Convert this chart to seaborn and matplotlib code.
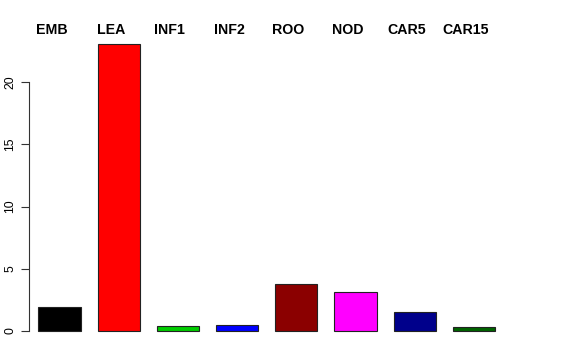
import matplotlib
matplotlib.use("Agg")
import matplotlib.pyplot as plt
import matplotlib.transforms as mtransforms
import seaborn as sns
import pandas as pd

categories = ["EMB", "LEA", "INF1", "INF2", "ROO", "NOD", "CAR5", "CAR15"]
values = [1.88, 23.1, 0.35, 0.46, 3.76, 3.12, 1.51, 0.27]
colors = ["#000000", "#FF0000", "#00CD00", "#0000FF", "#8B0000", "#FF00FF", "#00008B", "#006400"]
yticks = [0, 5, 10, 15, 20]

sns.set_style("white")
plt.rcParams["font.family"] = ["Liberation Sans", "DejaVu Sans"]
plt.rcParams["text.color"] = "black"
plt.rcParams["ytick.color"] = "black"
plt.rcParams["ytick.labelcolor"] = "black"

df = pd.DataFrame({"cat": categories, "val": values})

fig = plt.figure(figsize=(5.76, 3.6), dpi=100)
W, H = 576, 360
ax_left, ax_right = 29, 560
ax_top, ax_bot = 32, 342.5
ax = fig.add_axes([ax_left / W, (H - ax_bot) / H, (ax_right - ax_left) / W, (ax_bot - ax_top) / H])

sns.barplot(data=df, x="cat", y="val", hue="cat", order=categories, hue_order=categories,
            palette=colors, legend=False, width=0.716, edgecolor="#222222", linewidth=0.8,
            saturation=1, ax=ax)

px_per_cat = 59.2
c0 = 59.5
ax.set_xlim((ax_left - c0) / px_per_cat, (ax_right - c0) / px_per_cat)
ax.set_ylim(-0.95, 24.05)
ax.set_facecolor("white")

for s in ["top", "right", "bottom"]:
    ax.spines[s].set_visible(False)
ax.spines["left"].set_bounds(0, 20)
ax.spines["left"].set_color("#333333")
ax.spines["left"].set_linewidth(0.8)

ax.set_xticks([])
ax.set_xlabel("")
ax.set_ylabel("")
ax.set_yticks(yticks)
ax.set_yticklabels([str(t) for t in yticks], rotation=90, va="center", ha="right",
                   fontsize=8.8, color="black")
ax.tick_params(axis="y", length=5.8, width=0.8, color="#333333", pad=3.5, left=True)

trans = mtransforms.blended_transform_factory(ax.transData, fig.transFigure)
for i, c in enumerate(categories):
    ax.text(i - 0.135, (H - 30) / H, c, transform=trans, ha="center", va="center",
            fontsize=10.2, fontweight="bold", color="black")

fig.savefig("out.png", dpi=100, facecolor="white")
